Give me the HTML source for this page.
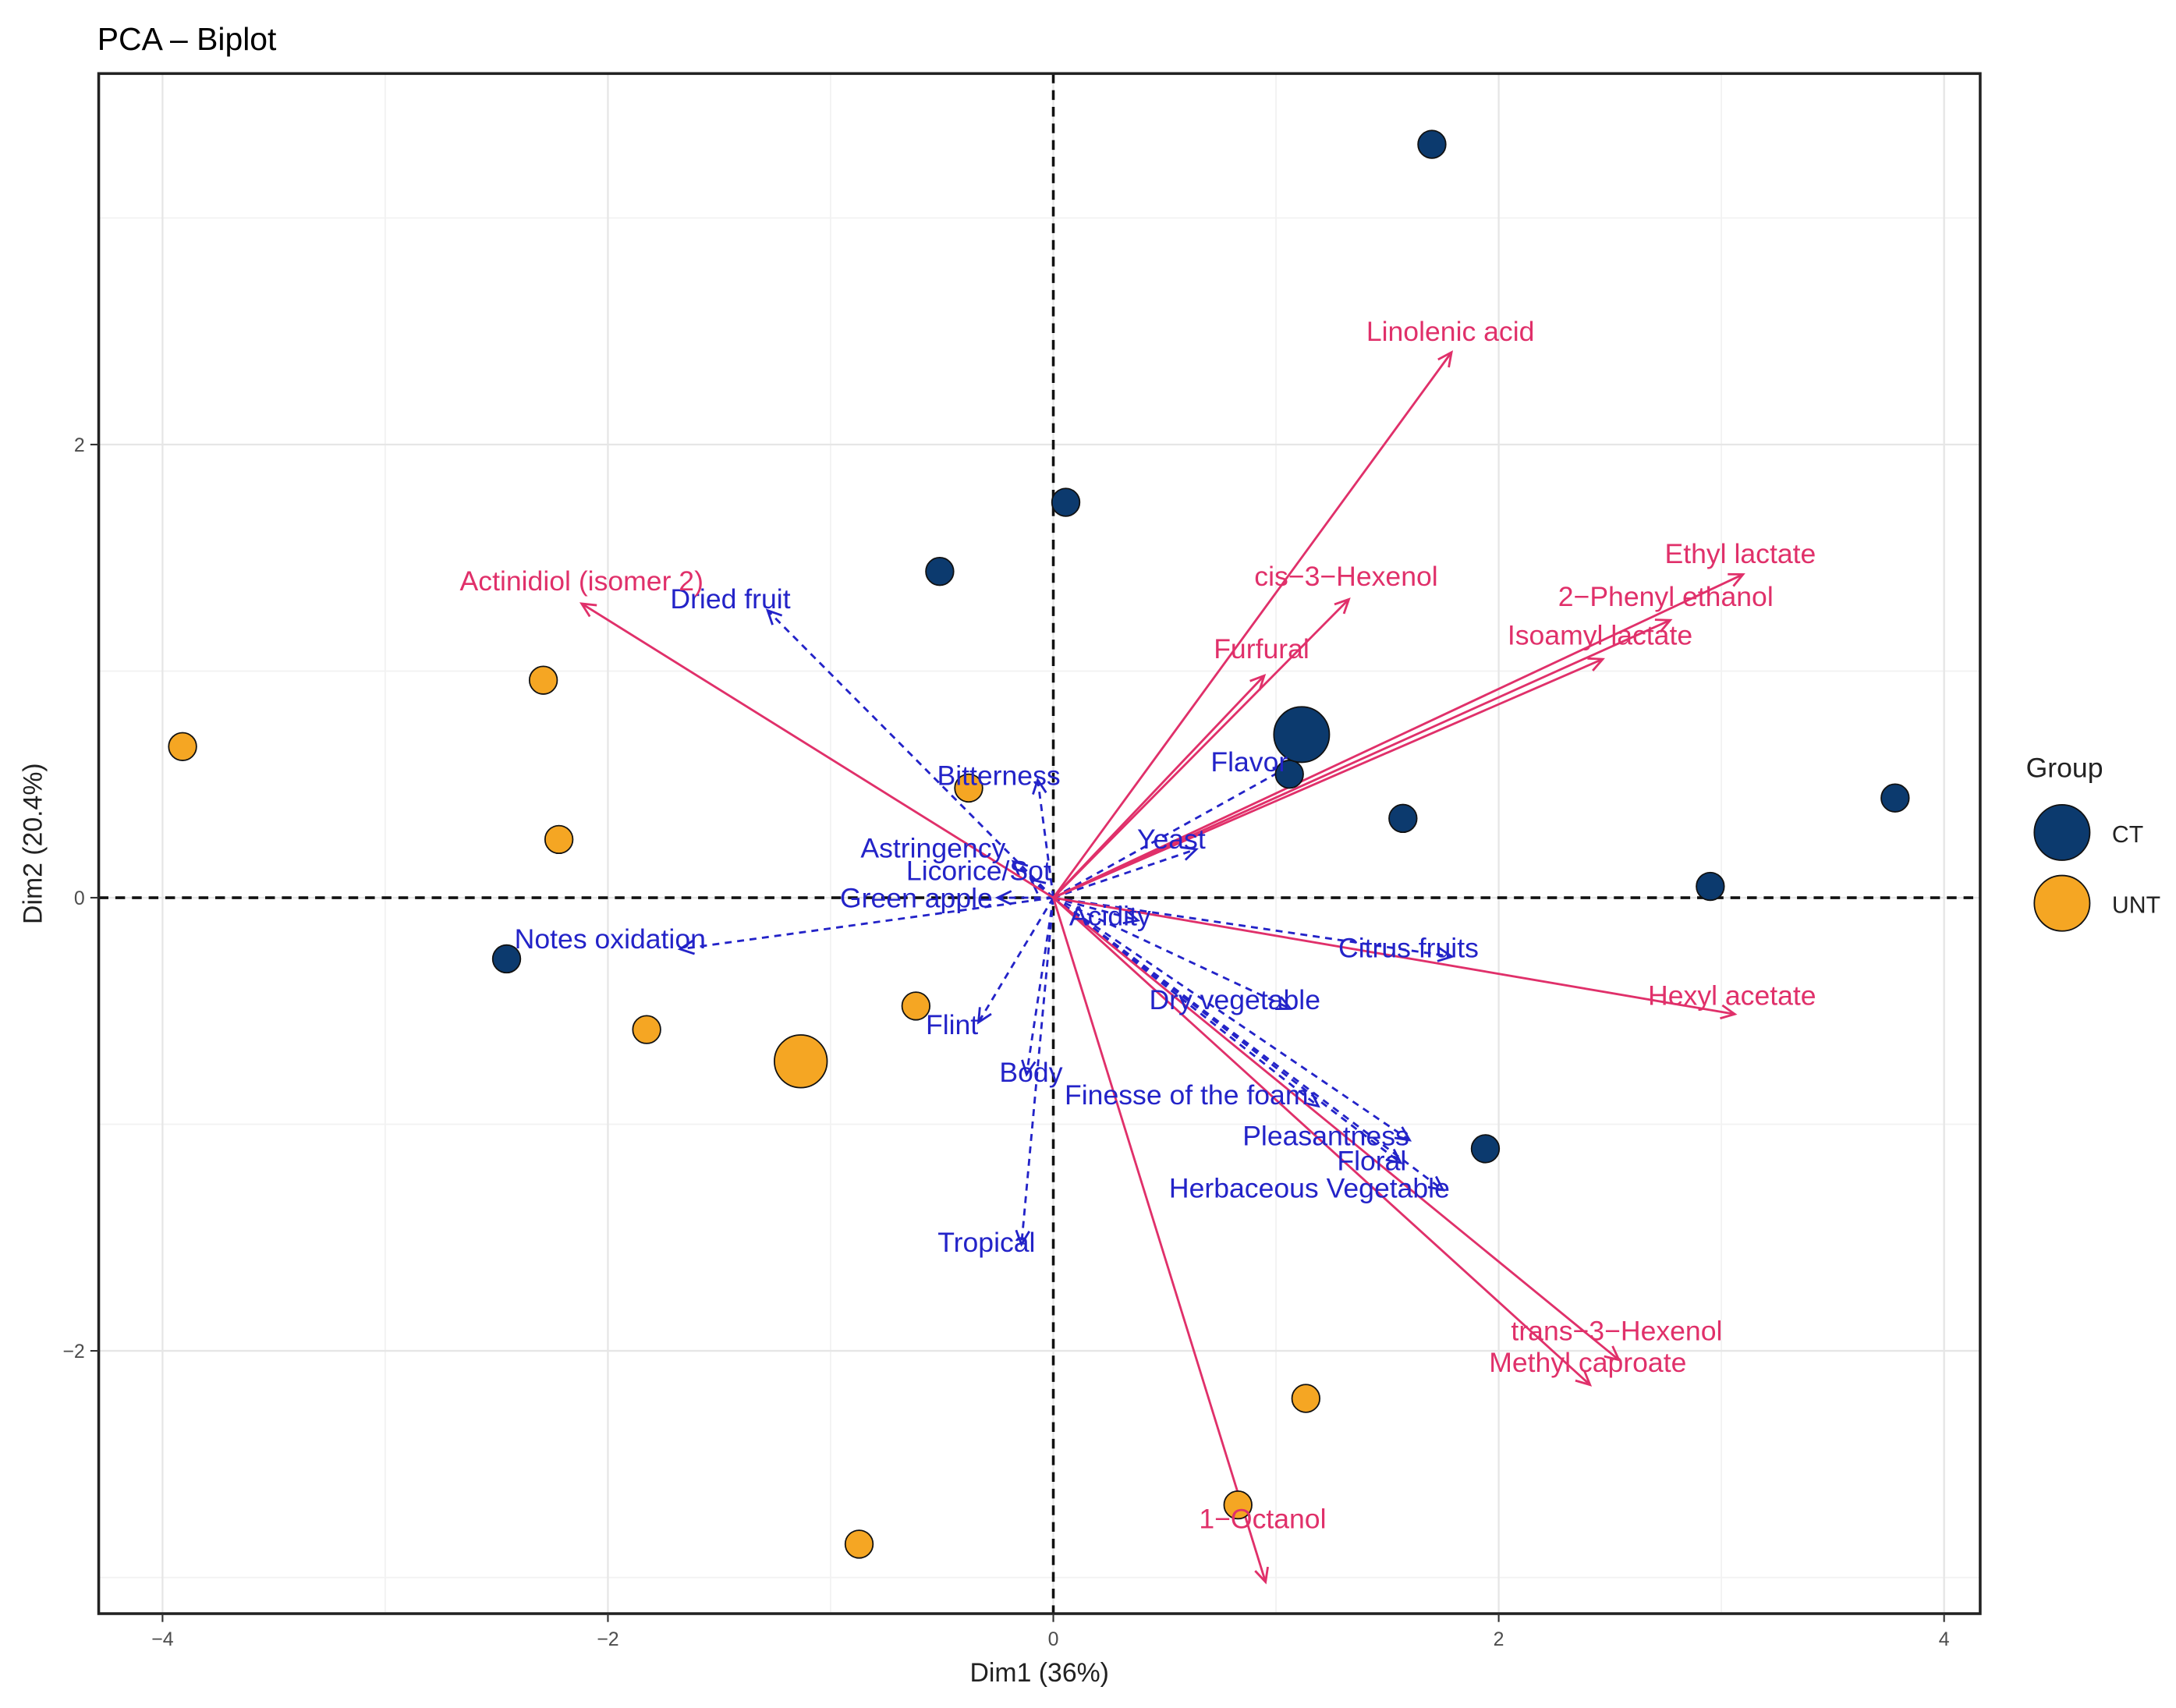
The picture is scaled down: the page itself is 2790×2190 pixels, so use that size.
<!DOCTYPE html>
<html><head><meta charset="utf-8"><style>
html,body{margin:0;padding:0;background:#fff;}
svg{display:block;font-family:"Liberation Sans",Arial,sans-serif;}
</style></head><body>
<svg id="chart" width="2790" height="2190" viewBox="0 0 1568 1231" xmlns="http://www.w3.org/2000/svg">
<rect width="1568" height="1231" fill="#fff"/>
<text x="70" y="36" font-size="23" fill="#000">PCA – Biplot</text>
<g id="grid"></g>
<g id="arrows"></g>
<g id="points"></g>
<g id="labels"></g>
<rect x="71" y="53" width="1356" height="1110" fill="none" stroke="#222" stroke-width="2"/>
<g id="axes"></g>
<text x="749" y="1212" font-size="19" text-anchor="middle" fill="#222">Dim1 (36%)</text>
<text transform="translate(30,608) rotate(-90)" font-size="19" text-anchor="middle" fill="#222">Dim2 (20.4%)</text>
<g>
<text x="1460" y="560" font-size="20" fill="#222">Group</text>
<circle cx="1486" cy="600" r="20" fill="#0c3a6e" stroke="#111"/>
<text x="1522" y="607" font-size="17" fill="#222">CT</text>
<circle cx="1486" cy="651" r="20" fill="#f5a623" stroke="#111"/>
<text x="1522" y="658" font-size="17" fill="#222">UNT</text>
</g>
</svg>
<script>
const xTicks=[-4,-2,0,2,4];
const yTicks=[-2,0,2];
const xMinor=[-3,-1,1,3];
const yMinor=[-3,-1,1,3];
const ctX=[1.70,0.056,-0.51,1.06,1.57,3.78,2.95,-2.455,1.94];
const ctY=[3.325,1.745,1.44,0.545,0.35,0.44,0.05,-0.27,-1.108];
const untX=[-3.91,-2.29,-2.22,-0.38,-0.617,-1.826,1.134,0.829,-0.872];
const untY=[0.667,0.96,0.257,0.484,-0.478,-0.582,-2.21,-2.68,-2.853];
const meanX=[1.115,-1.134];
const meanY=[0.72,-0.722];
const supNames=["Linolenic acid","Ethyl lactate","2\u2212Phenyl ethanol","Isoamyl lactate","cis\u22123\u2212Hexenol","Furfural","Actinidiol (isomer 2)","Hexyl acetate","trans\u22123\u2212Hexenol","Methyl caproate","1\u2212Octanol"];
const supX=[1.788,3.097,2.77,2.467,1.327,0.947,-2.118,3.06,2.54,2.41,0.953];
const supY=[2.407,1.427,1.225,1.053,1.317,0.98,1.298,-0.514,-2.04,-2.15,-3.02];
const supLX=[1.783,3.085,2.75,2.455,1.315,0.935,-2.118,3.048,2.53,2.40,0.94];
const supLY=[2.50,1.52,1.33,1.16,1.42,1.10,1.40,-0.43,-1.91,-2.05,-2.74];
const actNames=["Dried fruit","Bitterness","Flavor","Yeast","Astringency","Licorice/Sot","Green apple","Acidity","Notes oxidation","Citrus fruits","Dry vegetable","Flint","Body","Finesse of the foam","Pleasantness","Floral","Herbaceous Vegetable","Tropical"];
const actX=[-1.283,-0.07,1.053,0.642,-0.18,-0.1,-0.25,0.38,-1.676,1.79,1.065,-0.336,-0.12,1.19,1.6,1.56,1.75,-0.143];
const actY=[1.268,0.52,0.576,0.214,0.16,0.08,0.0,-0.1,-0.227,-0.26,-0.49,-0.55,-0.78,-0.92,-1.07,-1.17,-1.29,-1.53];
const actLX=[-1.45,-0.245,0.88,0.53,-0.54,-0.335,-0.615,0.255,-1.99,1.595,0.815,-0.455,-0.1,0.598,1.224,1.43,1.15,-0.3];
const actLY=[1.32,0.54,0.6,0.26,0.22,0.12,0.0,-0.08,-0.18,-0.22,-0.45,-0.56,-0.77,-0.87,-1.05,-1.16,-1.28,-1.52];

const X0=759,XS=160.5,Y0=647,YS=163.3;
const sx=v=>X0+v*XS, sy=v=>Y0-v*YS;
const NS="http://www.w3.org/2000/svg";
function mk(tag,attrs,parent){const e=document.createElementNS(NS,tag);for(const k in attrs)e.setAttribute(k,attrs[k]);parent.appendChild(e);return e;}
const grid=document.getElementById('grid'),axes=document.getElementById('axes'),arrows=document.getElementById('arrows'),points=document.getElementById('points'),labels=document.getElementById('labels');
mk('rect',{x:71,y:53,width:1356,height:1110,fill:'#fff'},grid);
xMinor.forEach(v=>{const l=mk('line',{x1:sx(v),x2:sx(v),y1:53,y2:1163,stroke:'#f2f2f2','stroke-width':1},grid);

});
yMinor.forEach(v=>{const l=mk('line',{x1:71,x2:1427,y1:sy(v),y2:sy(v),stroke:'#f2f2f2','stroke-width':1},grid);

});
xTicks.forEach(v=>{const l=mk('line',{x1:sx(v),x2:sx(v),y1:53,y2:1163,stroke:'#e6e6e6','stroke-width':1.3},grid);


const t=mk('line',{x1:sx(v),x2:sx(v),y1:1163,y2:1169,stroke:'#333','stroke-width':1.2},axes);


const tx=mk('text',{x:sx(v),y:1186,'font-size':14,'text-anchor':'middle',fill:'#4d4d4d'},axes);tx.textContent=(v<0?'\u2212'+(-v):v);

});
yTicks.forEach(v=>{const l=mk('line',{x1:71,x2:1427,y1:sy(v),y2:sy(v),stroke:'#e6e6e6','stroke-width':1.3},grid);


const t=mk('line',{x1:65,x2:71,y1:sy(v),y2:sy(v),stroke:'#333','stroke-width':1.2},axes);


const tx=mk('text',{x:61,y:sy(v)+5,'font-size':14,'text-anchor':'end',fill:'#4d4d4d'},axes);tx.textContent=(v<0?'\u2212'+(-v):v);

});
let h=mk('line',{x1:71,x2:1427,y1:sy(0),y2:sy(0),stroke:'#111','stroke-width':2,'stroke-dasharray':'7,5'},grid);


let vv=mk('line',{x1:sx(0),x2:sx(0),y1:53,y2:1163,stroke:'#111','stroke-width':2,'stroke-dasharray':'7,5'},grid);



function arrow(x,y,col,dash){
  const x1=sx(0),y1=sy(0),x2=sx(x),y2=sy(y);
  const g=mk('g',{},arrows);
  const a={x1,y1,x2,y2,stroke:col,'stroke-width':1.6};if(dash)a['stroke-dasharray']='5,4';
  mk('line',a,g);
  const ang=Math.atan2(y2-y1,x2-x1),L=11,w=0.45;
  mk('polyline',{points:`${x2-L*Math.cos(ang-w)},${y2-L*Math.sin(ang-w)} ${x2},${y2} ${x2-L*Math.cos(ang+w)},${y2-L*Math.sin(ang+w)}`,fill:'none',stroke:col,'stroke-width':1.6},g);
  return g;
}
actX.forEach((v,i)=>{const g=arrow(v,actY[i],'#2323c8',true);

});
supX.forEach((v,i)=>{const g=arrow(v,supY[i],'#e0306a',false);

});
ctX.forEach((v,i)=>{const c=mk('circle',{cx:sx(v),cy:sy(ctY[i]),r:10,fill:'#0c3a6e',stroke:'#111','stroke-width':1},points);

});
untX.forEach((v,i)=>{const c=mk('circle',{cx:sx(v),cy:sy(untY[i]),r:10,fill:'#f5a623',stroke:'#111','stroke-width':1},points);

});
const mc=['#0c3a6e','#f5a623'];
meanX.forEach((v,i)=>{const c=mk('circle',{cx:sx(v),cy:sy(meanY[i]),r:i?19:20,fill:mc[i],stroke:'#111','stroke-width':1},points);

});
actNames.forEach((n,i)=>{const t=mk('text',{x:sx(actLX[i]),y:sy(actLY[i])+7,'font-size':20,'text-anchor':'middle',fill:'#2323c8'},labels);t.textContent=n;

});
supNames.forEach((n,i)=>{const t=mk('text',{x:sx(supLX[i]),y:sy(supLY[i])+7,'font-size':20,'text-anchor':'middle',fill:'#e0306a'},labels);t.textContent=n;

});
</script>
</body></html>
